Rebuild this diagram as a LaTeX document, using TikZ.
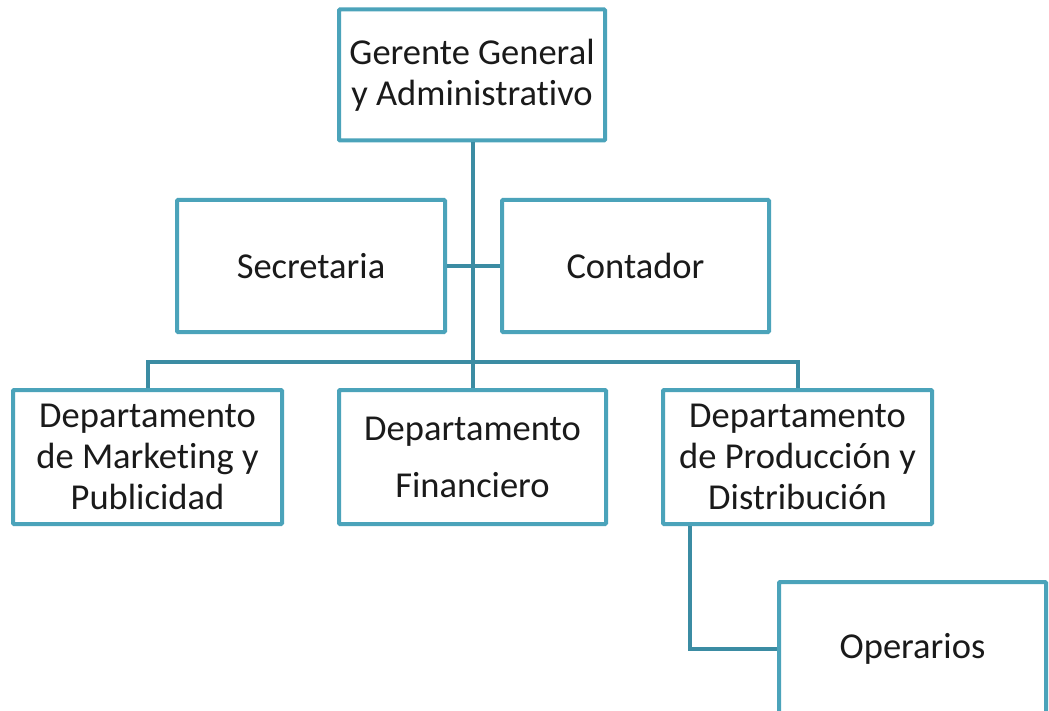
\documentclass[tikz,border=0pt]{standalone}
\usepackage{fontspec}
\setmainfont{Carlito}[Ligatures={NoCommon}]
\definecolor{boxc}{HTML}{4BA3BA}
\definecolor{linec}{HTML}{3B8CA3}
\definecolor{txt}{HTML}{1A1A1A}
\begin{document}
\begin{tikzpicture}[x=1pt,y=-1pt,
  orgbox/.style={draw=boxc,line width=4pt,fill=white,rectangle,rounded corners=1pt,
    align=center,text=txt,font=\fontsize{36.5}{41}\selectfont,inner sep=0pt},
  conn/.style={draw=linec,line width=4pt}]
\useasboundingbox (0,0) rectangle (1049,711);
\clip (0,0) rectangle (1049,711);
\coordinate (bus) at (473,362);
\node[orgbox,minimum width=266pt,minimum height=131pt] (ger) at (472,75) {Gerente General\\y Administrativo};
\node[orgbox,minimum width=267pt,minimum height=134pt] (fin) at (472.5,457) {Departamento\\[16pt]Financiero};
\node[orgbox,minimum width=268pt,minimum height=132pt] (sec) at (311,266) {Secretaria};
\node[orgbox,minimum width=267pt,minimum height=132pt] (con) at (635.5,266) {Contador};
\node[orgbox,minimum width=269pt,minimum height=134pt] (mkt) at (147.5,457) {Departamento\\de Marketing y\\Publicidad};
\node[orgbox,minimum width=269pt,minimum height=134pt] (prod) at (797.5,457) {Departamento\\de Producción y\\Distribución};
\node[orgbox,minimum width=267pt,minimum height=134pt] (ope) at (912.5,649) {Operarios};
\draw[conn] (ger.south -| bus) -- (fin.north -| bus);
\draw[conn] (sec.east) -- (con.west);
\draw[conn] (mkt.north) |- (bus) -| (prod.north);
\coordinate (pj) at ([xshift=-107.5pt]prod.south);
\draw[conn] (pj) |- (ope.west);
\end{tikzpicture}
\end{document}
